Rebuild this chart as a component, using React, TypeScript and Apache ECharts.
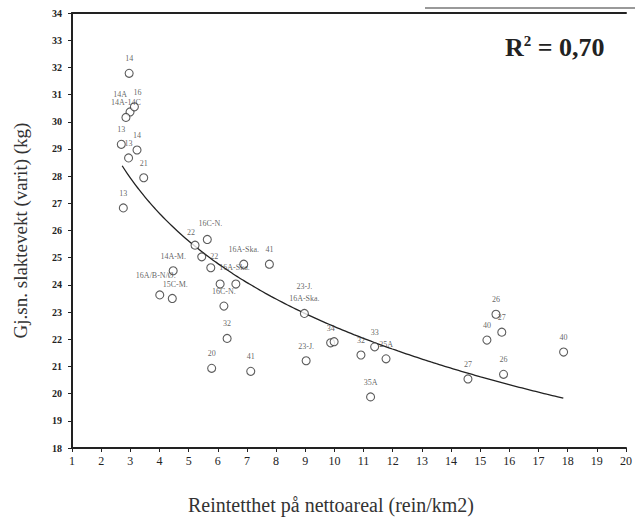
import React, { useEffect, useRef } from "react";
import * as echarts from "echarts";

// Scatter data (reindeer density vs. mean carcass weight)
const densityValues = [
  2.96, 2.99, 3.14, 2.85, 2.69, 2.94, 3.23, 3.46, 2.76,
  5.22, 5.64, 5.45, 5.76, 4.47, 4.01, 4.44, 6.89, 7.77,
  6.08, 6.62, 6.21, 6.32, 5.79, 7.13, 8.97, 9.03, 9.87,
  9.99, 10.91, 11.38, 11.77, 11.24, 14.58, 15.54, 15.74, 15.23,
  15.8, 17.86,
];
const weightValues = [
  31.78, 30.36, 30.55, 30.16, 29.17, 28.67, 28.96, 27.94, 26.83,
  25.46, 25.67, 25.03, 24.63, 24.52, 23.63, 23.5, 24.76, 24.76,
  24.03, 24.03, 23.22, 22.03, 20.93, 20.82, 22.95, 21.21, 21.87,
  21.91, 21.42, 21.72, 21.28, 19.88, 20.54, 22.92, 22.26, 21.97,
  20.71, 21.53,
];
const pointLabels = [
  "14", "14A", "16", "14A-14C", "13", "13", "14", "21", "13",
  "22", "16C-N.", "22", "16A-Ska.", "14A-M.", "16A/B-N/Ø.", "15C-M.", "16A-Ska.", "41",
  "", "", "16C-N.", "32", "20", "41", "23-J.\n16A-Ska.", "23-J.", "34",
  "", "32", "33", "25A", "35A", "27", "26", "27", "40",
  "26", "40",
];
const labelSides = [
  "top", "top", "top", "top", "top", "top", "top", "top", "top",
  "top", "top", "right", "right", "top", "top", "top", "top", "top",
  "top", "top", "top", "top", "top", "top", "top", "top", "top",
  "top", "top", "top", "top", "top", "top", "top", "top", "top",
  "top", "top",
];
// small nudges for crowded labels (style only)
const labelNudges: Record<number, [number, number]> = {
  1: [-10, -3],
  2: [3, 0],
  9: [-4, 2],
  10: [3, -1],
  14: [-4, -5],
  15: [3, 1],
};

// Logarithmic trend line (y = A + B ln x) as drawn in the reference
const TREND_A = 32.93;
const TREND_B = -4.545;
const TREND_X_START = 2.72;
const TREND_X_END = 17.85;

const xTickMin = 1;
const xTickMax = 20;
const yTickMin = 18;
const yTickMax = 34;

const xAxisTitle = "Reintetthet på nettoareal (rein/km2)";
const yAxisTitle = "Gj.sn. slaktevekt (varit) (kg)";

const SERIF = "'Liberation Serif', 'DejaVu Serif', serif";
const LABEL_COLOR = "#3a3a3a";

export default function App() {
  const ref = useRef<HTMLDivElement>(null);

  useEffect(() => {
    if (!ref.current) return;
    const chart = echarts.init(ref.current, undefined, { renderer: "svg" });

    const scatterData = densityValues.map((x, i) => ({
      value: [x, weightValues[i]],
      label: {
        show: pointLabels[i] !== "",
        formatter: pointLabels[i],
        position: labelSides[i] as any,
        offset: labelNudges[i] || [0, 0],
        color: LABEL_COLOR,
        fontFamily: SERIF,
        fontSize: 8,
      },
    }));

    const trendData: number[][] = [];
    const steps = 80;
    for (let k = 0; k <= steps; k++) {
      const x = TREND_X_START + ((TREND_X_END - TREND_X_START) * k) / steps;
      trendData.push([x, TREND_A + TREND_B * Math.log(x)]);
    }

    chart.setOption({
      animation: false,
      backgroundColor: "#ffffff",
      title: [
        {
          text: "{r|R}{s|2}{r| = 0,70}",
          left: 500,
          top: 28,
          textStyle: {
            rich: {
              r: { fontFamily: SERIF, fontSize: 26, fontWeight: "bold", color: "#222", verticalAlign: "bottom" },
              s: { fontFamily: SERIF, fontSize: 15, fontWeight: "bold", color: "#222", verticalAlign: "top", padding: [0, 0, 12, 0] },
            },
          },
        },
        {
          text: xAxisTitle,
          left: 183,
          top: 490,
          textStyle: { fontFamily: SERIF, fontSize: 20, fontWeight: "normal", color: "#333" },
        },
      ],
      graphic: [
        {
          type: "line",
          shape: { x1: 425, y1: 8, x2: 635, y2: 8 },
          style: { stroke: "#999", lineWidth: 2 },
        },
      ],
      grid: { left: 72, right: 1, top: 13, bottom: 74 },
      xAxis: [
        {
          type: "value",
          min: xTickMin,
          max: xTickMax,
          interval: 1,
          axisLine: { show: true, lineStyle: { color: "#222", width: 2 } },
          axisTick: { show: true, length: 4, lineStyle: { color: "#222" } },
          splitLine: { show: false },
          axisLabel: { fontFamily: SERIF, fontSize: 12, color: "#222", margin: 7 },
        },
        {
          type: "value",
          position: "top",
          min: xTickMin,
          max: xTickMax,
          axisLine: { show: true, onZero: false, lineStyle: { color: "#222", width: 2 } },
          axisTick: { show: false },
          axisLabel: { show: false },
          splitLine: { show: false },
        },
      ],
      yAxis: {
        type: "value",
        min: yTickMin,
        max: yTickMax,
        interval: 1,
        name: yAxisTitle,
        nameLocation: "middle",
        nameGap: 42,
        nameTextStyle: { fontFamily: SERIF, fontSize: 19, color: "#333" },
        axisLine: { show: true, lineStyle: { color: "#222", width: 2 } },
        axisTick: { show: true, length: 4, lineStyle: { color: "#222" } },
        splitLine: { show: false },
        axisLabel: { fontFamily: SERIF, fontSize: 10, fontWeight: "bold", color: "#222", margin: 10 },
      },
      series: [
        {
          type: "line",
          data: trendData,
          showSymbol: false,
          smooth: true,
          lineStyle: { color: "#222", width: 1.3 },
          silent: true,
          z: 1,
        },
        {
          type: "scatter",
          data: scatterData,
          symbol: "circle",
          symbolSize: 8,
          itemStyle: { color: "#ffffff", borderColor: "#333", borderWidth: 1.1 },
          label: {
            show: true,
            fontFamily: SERIF,
            fontSize: 8,
            color: LABEL_COLOR,
            distance: 4,
            lineHeight: 12,
          },
          z: 2,
        },
      ],
    });

    return () => chart.dispose();
  }, []);

  return (
    <div
      ref={ref}
      style={{ position: "fixed", left: 0, top: 0, width: 635, height: 522 }}
    />
  );
}
